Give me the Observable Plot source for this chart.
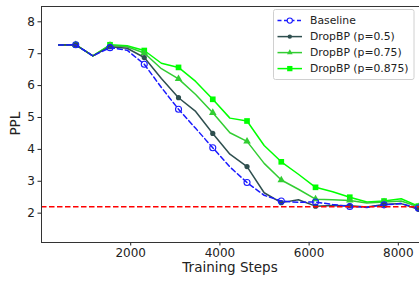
<!DOCTYPE html>
<html>
<head>
<meta charset="utf-8">
<script src="https://cdn.jsdelivr.net/npm/d3@7"></script>
<script src="https://cdn.jsdelivr.net/npm/@observablehq/plot@0.6"></script>
<style>
  html, body { margin: 0; padding: 0; background: #fff; }
  #chart { width: 419px; height: 281px; overflow: hidden; }
</style>
</head>
<body>
<div id="chart"></div>
<script>
const steps = [384, 768, 1152, 1536, 1920, 2304, 2688, 3072, 3456, 3840, 4224, 4608, 4992, 5376, 5760, 6144, 6528, 6912, 7296, 7680, 8064, 8448];
const baseline   = [7.27, 7.28, 6.93, 7.19, 7.11, 6.67, 5.94, 5.26, 4.66, 4.05, 3.45, 2.96, 2.56, 2.38, 2.34, 2.35, 2.27, 2.21, 2.18, 2.26, 2.30, 2.16];
const dropbp050  = [7.27, 7.28, 6.93, 7.22, 7.17, 6.88, 6.22, 5.62, 5.19, 4.50, 3.85, 3.46, 2.64, 2.33, 2.42, 2.22, 2.24, 2.23, 2.19, 2.27, 2.30, 2.12];
const dropbp075  = [7.27, 7.28, 6.93, 7.26, 7.22, 7.02, 6.53, 6.21, 5.72, 5.15, 4.52, 4.25, 3.56, 3.04, 2.75, 2.44, 2.42, 2.40, 2.32, 2.35, 2.38, 2.20];
const dropbp0875 = [7.27, 7.28, 6.93, 7.28, 7.25, 7.10, 6.70, 6.57, 6.13, 5.57, 4.98, 4.89, 4.12, 3.61, 3.22, 2.81, 2.67, 2.50, 2.35, 2.38, 2.45, 2.22];
const targetPPL = 2.2;
const seriesNames = ["Baseline", "DropBP (p=0.5)", "DropBP (p=0.75)", "DropBP (p=0.875)"];
const xTicks = [2000, 4000, 6000, 8000];
const yTicks = [2, 3, 4, 5, 6, 7, 8];
const xLabel = "Training Steps";
const yLabel = "PPL";

const colors = {"Baseline": "#1a1aff", "DropBP (p=0.5)": "#2f4f4f", "DropBP (p=0.75)": "#32cd32", "DropBP (p=0.875)": "#00ff00"};
const symbols = {"Baseline": "circle", "DropBP (p=0.5)": "circle", "DropBP (p=0.75)": "triangle", "DropBP (p=0.875)": "square"};

const valuesBy = [baseline, dropbp050, dropbp075, dropbp0875];
const rows = [];
seriesNames.forEach((name, si) => {
  steps.forEach((s, i) => rows.push({series: name, step: s, ppl: valuesBy[si][i], idx: i}));
});
const ser = n => rows.filter(d => d.series === n);
const mk = n => rows.filter(d => d.series === n && d.idx % 2 === 1);

const xDomain = [0, 8475];
const yDomain = [1.08, 8.48];

const plot = Plot.plot({
  width: 419,
  height: 281,
  marginLeft: 41,
  marginRight: 0,
  marginTop: 6,
  marginBottom: 39,
  style: {fontFamily: "DejaVu Sans", fontSize: "12px", background: "white", color: "#222"},
  x: {domain: xDomain},
  y: {domain: yDomain},
  marks: [
    Plot.axisX({ticks: xTicks, tickSize: 3.5, tickPadding: 2, label: null, tickFormat: d => String(d), fontSize: 12}),
    Plot.axisY({ticks: yTicks, tickSize: 3.5, tickPadding: 3, label: null, fontSize: 12}),
    Plot.line(ser("DropBP (p=0.875)"), {x: "step", y: "ppl", stroke: colors["DropBP (p=0.875)"], strokeWidth: 1.5}),
    Plot.dot(mk("DropBP (p=0.875)"), {x: "step", y: "ppl", symbol: "square", r: 3.2, fill: colors["DropBP (p=0.875)"], stroke: "none"}),
    Plot.line(ser("DropBP (p=0.75)"), {x: "step", y: "ppl", stroke: colors["DropBP (p=0.75)"], strokeWidth: 1.5}),
    Plot.dot(mk("DropBP (p=0.75)"), {x: "step", y: "ppl", symbol: "triangle", r: 2.8, fill: colors["DropBP (p=0.75)"], stroke: "none"}),
    Plot.line(ser("DropBP (p=0.5)"), {x: "step", y: "ppl", stroke: colors["DropBP (p=0.5)"], strokeWidth: 1.5}),
    Plot.dot(mk("DropBP (p=0.5)"), {x: "step", y: "ppl", symbol: "circle", r: 2.6, fill: colors["DropBP (p=0.5)"], stroke: "none"}),
    Plot.line(ser("Baseline"), {x: "step", y: "ppl", stroke: colors["Baseline"], strokeWidth: 1.5, strokeDasharray: "5,3"}),
    Plot.dot(mk("Baseline"), {x: "step", y: "ppl", symbol: "circle", r: 3, fill: "none", stroke: colors["Baseline"], strokeWidth: 1.1}),
    Plot.ruleY([targetPPL], {stroke: "red", strokeWidth: 1.5, strokeDasharray: "5.5,2.5"}),
    Plot.ruleX([xDomain[0]], {stroke: "#333", strokeWidth: 1}),
    Plot.ruleY([yDomain[0]], {stroke: "#333", strokeWidth: 1}),
    Plot.ruleY([yDomain[1]], {stroke: "#333", strokeWidth: 1})
  ]
});

document.getElementById("chart").appendChild(plot);

const svg = d3.select(plot);
svg.append("text")
  .attr("x", 230).attr("y", 272)
  .attr("text-anchor", "middle")
  .attr("font-family", "DejaVu Sans").attr("font-size", 13.5).attr("fill", "#222")
  .text(xLabel);
svg.append("text")
  .attr("transform", "translate(20,123.7) rotate(-90)")
  .attr("text-anchor", "middle")
  .attr("font-family", "DejaVu Sans").attr("font-size", 13.5).attr("fill", "#222")
  .text(yLabel);

const lg = svg.append("g");
lg.append("rect").attr("x", 273.5).attr("y", 9.5).attr("width", 140.5).attr("height", 70)
  .attr("rx", 2).attr("fill", "white").attr("fill-opacity", 0.85).attr("stroke", "#d0d0d0").attr("stroke-width", 1);
const rowY = [20.6, 36.6, 52.6, 68.6];
seriesNames.forEach((name, i) => {
  const y = rowY[i];
  const g = lg.append("g");
  g.append("line").attr("x1", 277.5).attr("x2", 302).attr("y1", y).attr("y2", y)
    .attr("stroke", colors[name]).attr("stroke-width", 1.5)
    .attr("stroke-dasharray", name === "Baseline" ? "4,2.5" : null);
  if (name === "Baseline") {
    g.append("circle").attr("cx", 289.8).attr("cy", y).attr("r", 2.6).attr("fill", "white").attr("stroke", colors[name]).attr("stroke-width", 1.1);
  } else if (symbols[name] === "square") {
    g.append("path").attr("d", d3.symbol().type(d3.symbolSquare).size(28)()).attr("transform", `translate(289.8,${y})`).attr("fill", colors[name]);
  } else if (symbols[name] === "triangle") {
    g.append("path").attr("d", d3.symbol().type(d3.symbolTriangle).size(14)()).attr("transform", `translate(289.8,${y})`).attr("fill", colors[name]);
  } else {
    g.append("circle").attr("cx", 289.8).attr("cy", y).attr("r", 2.2).attr("fill", colors[name]);
  }
  g.append("text").attr("x", 310).attr("y", y).attr("dy", "0.35em")
    .attr("text-anchor", "start")
    .attr("font-family", "DejaVu Sans").attr("font-size", 10.8).attr("fill", "#222")
    .text(name);
});
</script>
</body>
</html>
